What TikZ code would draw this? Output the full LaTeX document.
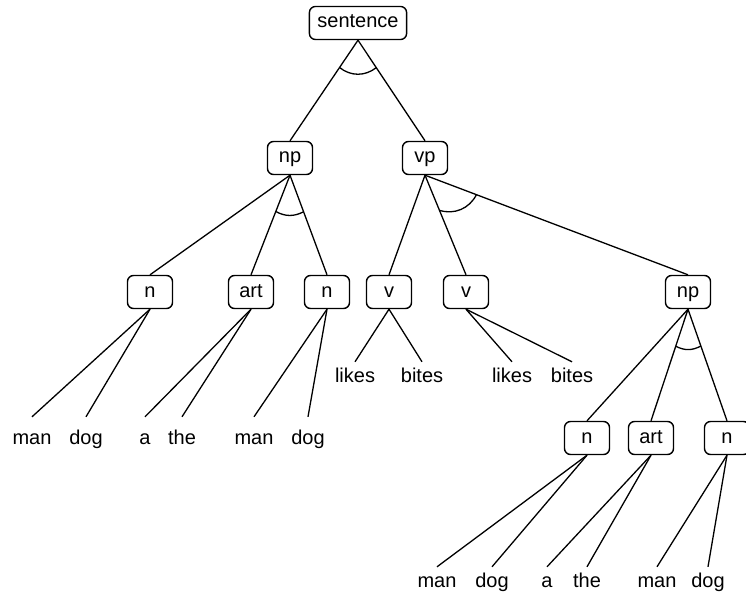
\documentclass[tikz,border=0pt]{standalone}
\usepackage{fontspec}
\setmainfont{Liberation Sans}
\usetikzlibrary{calc}
\begin{document}
\begin{tikzpicture}[x=1pt,y=1pt,
 cat/.style={draw, line width=1.4pt, rounded corners=6pt, minimum width=45pt, minimum height=33pt, inner xsep=8pt, text height=14pt, text depth=4pt, font=\fontsize{20}{24}\selectfont},
 word/.style={anchor=base, inner xsep=0pt, inner ysep=5pt, text height=15pt, text depth=4pt, font=\fontsize{20}{24}\selectfont},
 wordlow/.style={word, inner ysep=12pt},
 edge/.style={line width=1.3pt},
 andarc/.style={line width=1.3pt}]
\useasboundingbox (0,0) rectangle (746,-596);
% category nodes
\node[cat] (s) at (358,-23) {sentence};
\node[cat] (np) at (290,-158) {np};
\node[cat] (vp) at (425,-158) {vp};
\node[cat] (n1) at (150,-292) {n};
\node[cat] (art1) at (251,-292) {art};
\node[cat] (n2) at (327,-292) {n};
\node[cat] (v1) at (389,-292) {v};
\node[cat] (v2) at (466,-292) {v};
\node[cat] (np2) at (688,-292) {np};
\node[cat] (n3) at (587,-438) {n};
\node[cat] (art2) at (651,-438) {art};
\node[cat] (n4) at (727,-438) {n};
% words, first row
\node[wordlow] (w1) at (32,-444) {man};
\node[wordlow] (w2) at (86,-444) {dog};
\node[wordlow] (w3) at (145,-444) {a};
\node[wordlow] (w4) at (182,-444) {the};
\node[wordlow] (w5) at (254,-444) {man};
\node[wordlow] (w6) at (308,-444) {dog};
% verbs
\node[word] (x1) at (355,-382) {likes};
\node[word] (x2) at (422,-382) {bites};
\node[word] (x3) at (512,-382) {likes};
\node[word] (x4) at (572,-382) {bites};
% words, second row
\node[word] (y1) at (437,-587) {man};
\node[word] (y2) at (492,-587) {dog};
\node[word] (y3) at (547,-587) {a};
\node[word] (y4) at (587,-587) {the};
\node[word] (y5) at (657,-587) {man};
\node[word] (y6) at (708,-587) {dog};
% edges
\draw[edge] (s.south) -- (np.north);
\draw[edge] (s.south) -- (vp.north);
\draw[edge] (np.south) -- (n1.north);
\draw[edge] (np.south) -- (art1.north);
\draw[edge] (np.south) -- (n2.north);
\draw[edge] (vp.south) -- (v1.north);
\draw[edge] (vp.south) -- (v2.north);
\draw[edge] (vp.south) -- (np2.north);
\draw[edge] (np2.south) -- (n3.north);
\draw[edge] (np2.south) -- (art2.north);
\draw[edge] (np2.south) -- (n4.north);
\draw[edge] (n1.south) -- (w1.north);
\draw[edge] (n1.south) -- (w2.north);
\draw[edge] (art1.south) -- (w3.north);
\draw[edge] (art1.south) -- (w4.north);
\draw[edge] (n2.south) -- (w5.north);
\draw[edge] (n2.south) -- (w6.north);
\draw[edge] (v1.south) -- (x1.north);
\draw[edge] (v1.south) -- (x2.north);
\draw[edge] (v2.south) -- (x3.north);
\draw[edge] (v2.south) -- (x4.north);
\draw[edge] (n3.south) -- (y1.north);
\draw[edge] (n3.south) -- (y2.north);
\draw[edge] (art2.south) -- (y3.north);
\draw[edge] (art2.south) -- (y4.north);
\draw[edge] (n4.south) -- (y5.north);
\draw[edge] (n4.south) -- (y6.north);
% and-arcs
\draw[andarc] ($(s.south)!33pt!(np.north)$) to[bend right=38] ($(s.south)!33pt!(vp.north)$);
\draw[andarc] ($(np.south)!39pt!(art1.north)$) to[bend right=28] ($(np.south)!39pt!(n2.north)$);
\draw[andarc] ($(vp.south)!38pt!(v2.north)$) to[bend right=40] ($(vp.south)!55pt!(np2.north)$);
\draw[andarc] ($(np2.south)!39pt!(art2.north)$) to[bend right=28] ($(np2.south)!39pt!(n4.north)$);
\end{tikzpicture}
\end{document}
